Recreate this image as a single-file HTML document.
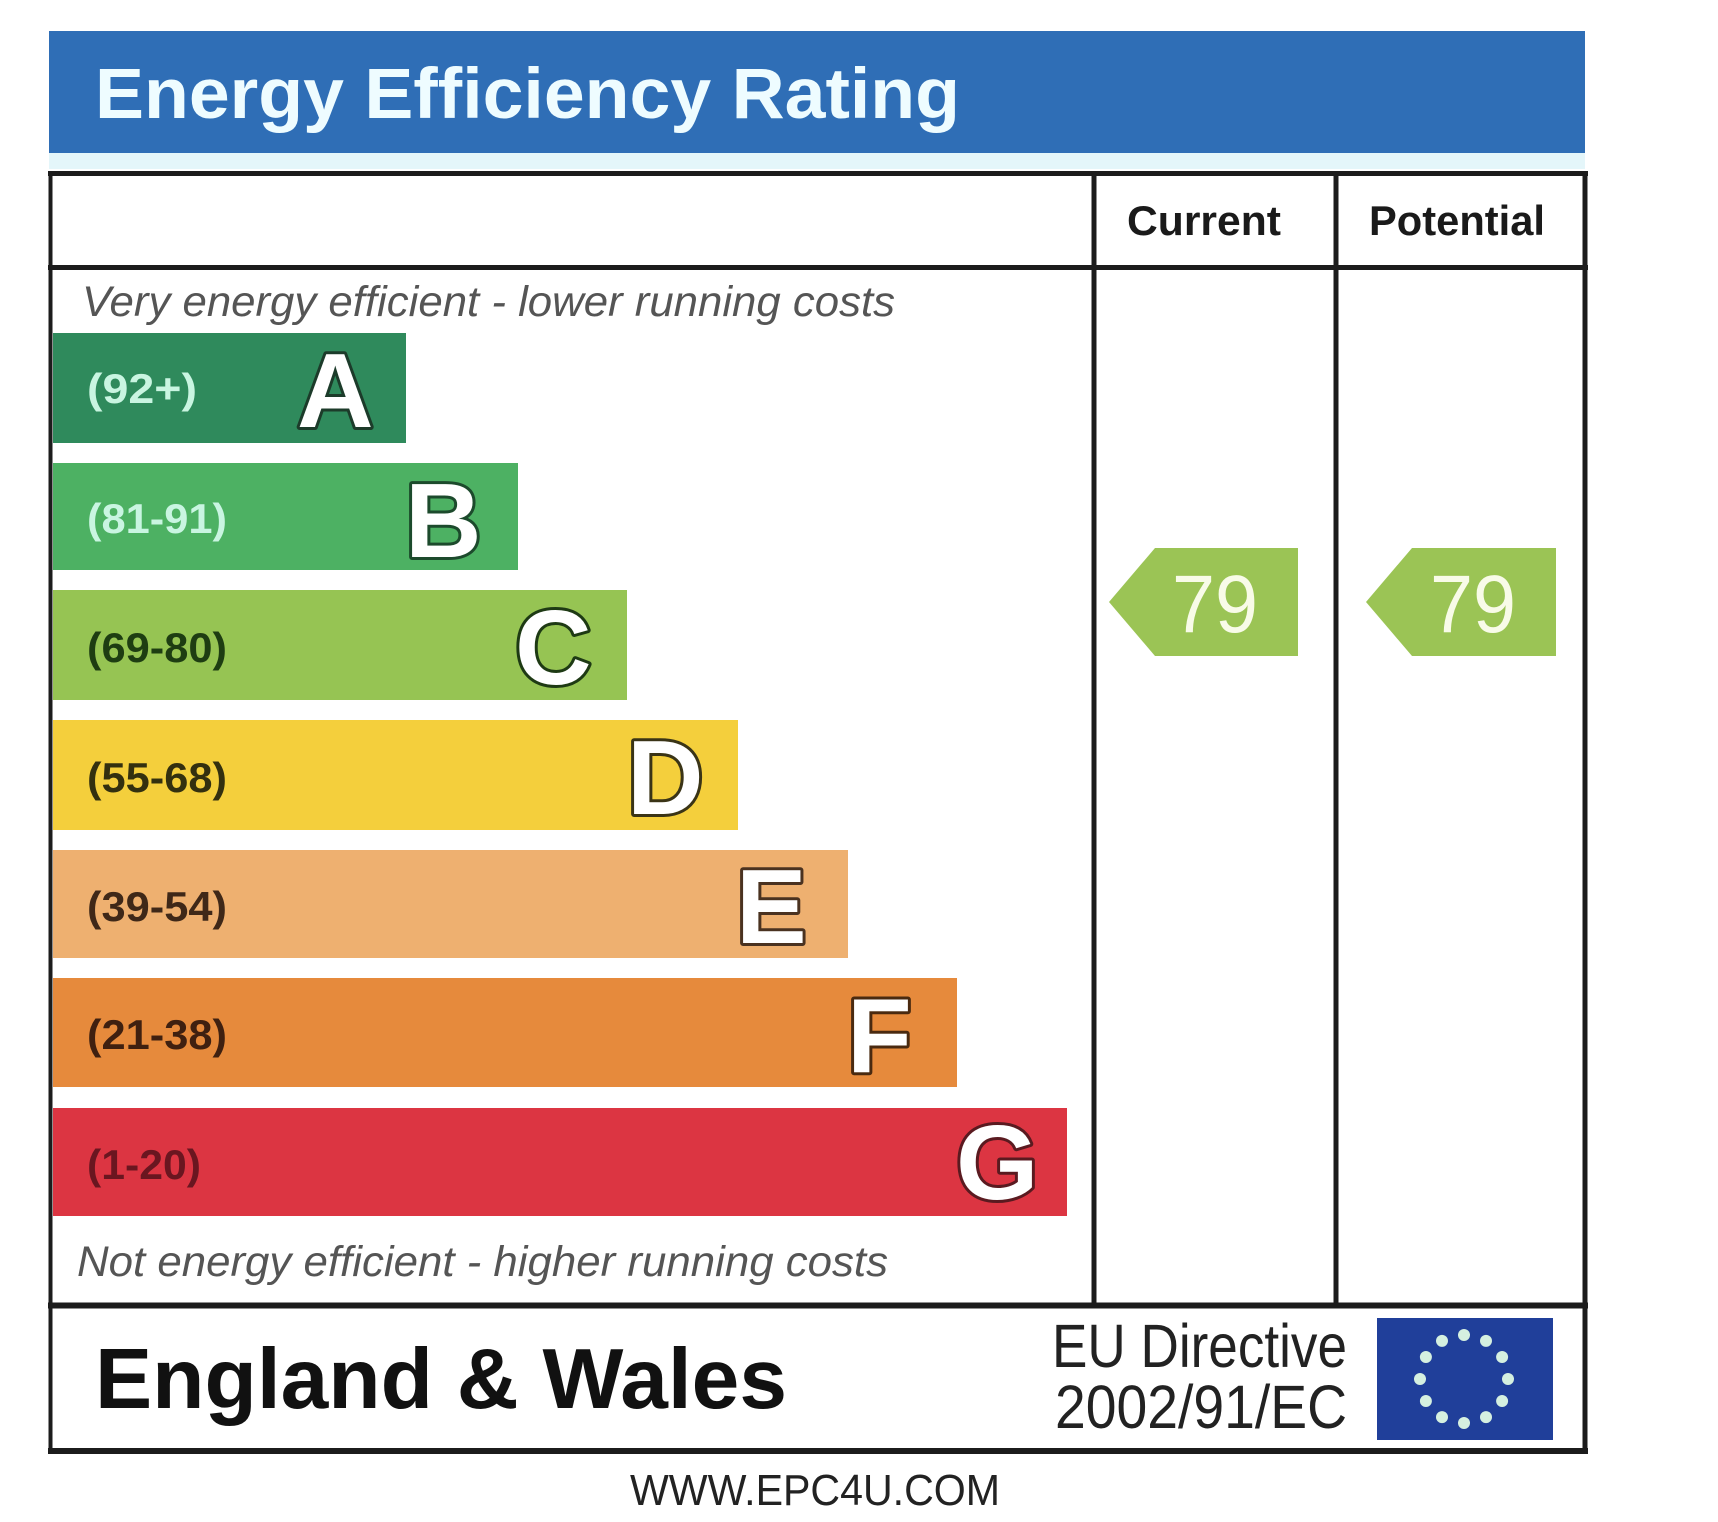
<!DOCTYPE html>
<html>
<head>
<meta charset="utf-8">
<style>
  html, body { margin: 0; padding: 0; background: #ffffff; }
  body { width: 1718px; height: 1522px; overflow: hidden; }
  svg { display: block; }
  text { font-family: "Liberation Sans", Arial, sans-serif; }
</style>
</head>
<body>
<svg width="1718" height="1522" viewBox="0 0 1718 1522" xmlns="http://www.w3.org/2000/svg">
  <rect x="0" y="0" width="1718" height="1522" fill="#ffffff"/>

  <!-- Header -->
  <rect x="49" y="31" width="1536" height="122" fill="#2f6eb6"/>
  <rect x="49" y="153" width="1536" height="16" fill="#e4f6fa"/>
  <text x="95" y="118" font-size="71" font-weight="bold" fill="#eefcff" textLength="865" lengthAdjust="spacingAndGlyphs">Energy Efficiency Rating</text>

  <!-- Table lines -->
  <g stroke="#1c1c1c" fill="none">
    <line x1="48" y1="173.5" x2="1588" y2="173.5" stroke-width="5"/>
    <line x1="48" y1="267.5" x2="1588" y2="267.5" stroke-width="5"/>
    <line x1="48" y1="1305.5" x2="1588" y2="1305.5" stroke-width="6"/>
    <line x1="48" y1="1451" x2="1588" y2="1451" stroke-width="6"/>
    <line x1="50.5" y1="171" x2="50.5" y2="1454" stroke-width="4"/>
    <line x1="1585" y1="171" x2="1585" y2="1454" stroke-width="5"/>
    <line x1="1094" y1="171" x2="1094" y2="1306" stroke-width="5"/>
    <line x1="1336" y1="171" x2="1336" y2="1306" stroke-width="5"/>
  </g>

  <!-- Column headers -->
  <text x="1127" y="235" font-size="42" font-weight="bold" fill="#1a1a1a" textLength="154" lengthAdjust="spacingAndGlyphs">Current</text>
  <text x="1369" y="235" font-size="42" font-weight="bold" fill="#1a1a1a" textLength="176" lengthAdjust="spacingAndGlyphs">Potential</text>

  <!-- Top/bottom captions -->
  <text x="82" y="316" font-size="43" font-style="italic" fill="#555555" textLength="813" lengthAdjust="spacingAndGlyphs">Very energy efficient - lower running costs</text>
  <text x="77" y="1276" font-size="43" font-style="italic" fill="#555555" textLength="811" lengthAdjust="spacingAndGlyphs">Not energy efficient - higher running costs</text>

  <!-- Bars -->
  <rect x="53" y="333" width="353" height="110" fill="#2f8a5c"/>
  <rect x="53" y="463" width="465" height="107" fill="#4db163"/>
  <rect x="53" y="590" width="574" height="110" fill="#96c453"/>
  <rect x="53" y="720" width="685" height="110" fill="#f4cf3c"/>
  <rect x="53" y="850" width="795" height="108" fill="#eeb070"/>
  <rect x="53" y="978" width="904" height="109" fill="#e68a3c"/>
  <rect x="53" y="1108" width="1014" height="108" fill="#dc3542"/>

  <!-- Range labels -->
  <g font-size="42" font-weight="bold">
    <text x="87" y="403" fill="#c9f5e1" textLength="110" lengthAdjust="spacingAndGlyphs">(92+)</text>
    <text x="87" y="533" fill="#c9f5e1" textLength="140" lengthAdjust="spacingAndGlyphs">(81-91)</text>
    <text x="87" y="662" fill="#1e3d12" textLength="140" lengthAdjust="spacingAndGlyphs">(69-80)</text>
    <text x="87" y="792" fill="#33300f" textLength="140" lengthAdjust="spacingAndGlyphs">(55-68)</text>
    <text x="87" y="921" fill="#3f2818" textLength="140" lengthAdjust="spacingAndGlyphs">(39-54)</text>
    <text x="87" y="1049" fill="#3f2010" textLength="140" lengthAdjust="spacingAndGlyphs">(21-38)</text>
    <text x="87" y="1179" fill="#6a1620" textLength="114" lengthAdjust="spacingAndGlyphs">(1-20)</text>
  </g>

  <!-- Band letters -->
  <g font-size="106" font-weight="bold" fill="#ffffff" stroke-width="6" paint-order="stroke" stroke-linejoin="round">
    <text x="297" y="427" stroke="#1c3b2a">A</text>
    <text x="405" y="557" stroke="#1c4a2c">B</text>
    <text x="515" y="684" stroke="#1e3a14">C</text>
    <text x="627" y="814" stroke="#3a3416">D</text>
    <text x="736" y="943" stroke="#4a3220">E</text>
    <text x="847" y="1072" stroke="#4a2a10">F</text>
    <text x="956" y="1199" stroke="#5a1a20">G</text>
  </g>

  <!-- Current / Potential arrows -->
  <polygon points="1109,602 1155,548 1298,548 1298,656 1155,656" fill="#9bc455"/>
  <polygon points="1366,602 1412,548 1556,548 1556,656 1412,656" fill="#9bc455"/>
  <text x="1172" y="632" font-size="82" fill="#f8fbe8" textLength="86" lengthAdjust="spacingAndGlyphs">79</text>
  <text x="1430" y="632" font-size="82" fill="#f8fbe8" textLength="86" lengthAdjust="spacingAndGlyphs">79</text>

  <!-- Footer -->
  <text x="95" y="1408" font-size="85" font-weight="bold" fill="#111111" textLength="692" lengthAdjust="spacingAndGlyphs">England &amp; Wales</text>
  <text x="1052" y="1367" font-size="61" fill="#222222" textLength="295" lengthAdjust="spacingAndGlyphs">EU Directive</text>
  <text x="1055" y="1428" font-size="61" fill="#222222" textLength="292" lengthAdjust="spacingAndGlyphs">2002/91/EC</text>

  <!-- EU flag -->
  <rect x="1377" y="1318" width="176" height="122" fill="#203f9a"/>
  <g fill="#d5f0e0">
    <circle cx="1464" cy="1335" r="6"/>
    <circle cx="1486" cy="1340.9" r="6"/>
    <circle cx="1502.1" cy="1357" r="6"/>
    <circle cx="1508" cy="1379" r="6"/>
    <circle cx="1502.1" cy="1401" r="6"/>
    <circle cx="1486" cy="1417.1" r="6"/>
    <circle cx="1464" cy="1423" r="6"/>
    <circle cx="1442" cy="1417.1" r="6"/>
    <circle cx="1425.9" cy="1401" r="6"/>
    <circle cx="1420" cy="1379" r="6"/>
    <circle cx="1425.9" cy="1357" r="6"/>
    <circle cx="1442" cy="1340.9" r="6"/>
  </g>

  <!-- Website -->
  <text x="630" y="1505" font-size="44" fill="#222222" textLength="370" lengthAdjust="spacingAndGlyphs">WWW.EPC4U.COM</text>
</svg>
</body>
</html>
